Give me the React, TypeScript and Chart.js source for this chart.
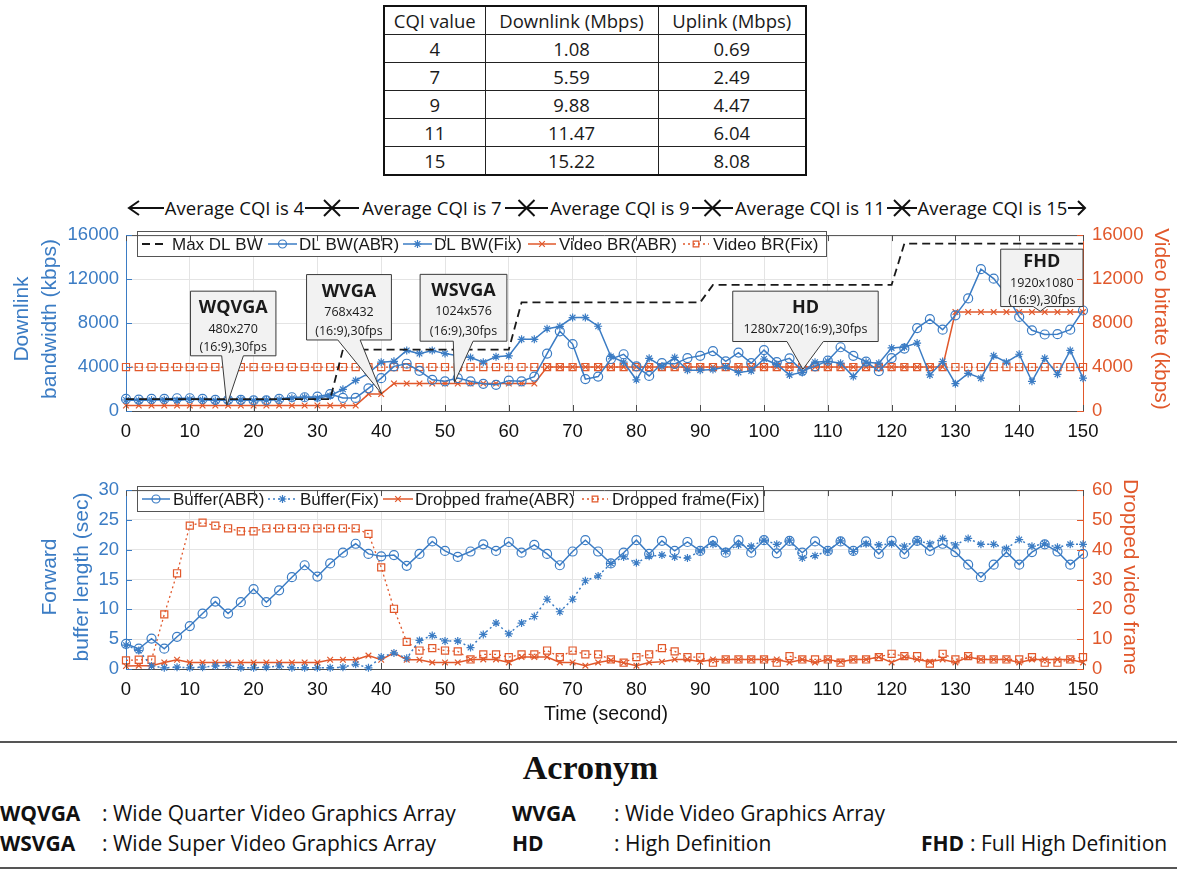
import React, { useEffect, useRef } from 'react';
import { Chart, registerables } from 'chart.js';

Chart.register(...registerables);

// ---------------- DATA ----------------
const TIME = [
  0, 2, 4, 6, 8, 10, 12, 14, 16, 18,
  20, 22, 24, 26, 28, 30, 32, 34, 36, 38,
  40, 42, 44, 46, 48, 50, 52, 54, 56, 58,
  60, 62, 64, 66, 68, 70, 72, 74, 76, 78,
  80, 82, 84, 86, 88, 90, 92, 94, 96, 98,
  100, 102, 104, 106, 108, 110, 112, 114, 116, 118,
  120, 122, 124, 126, 128, 130, 132, 134, 136, 138,
  140, 142, 144, 146, 148, 150,
];

// kbps
const MAX_DL_BW = [
  1080, 1080, 1080, 1080, 1080, 1080, 1080, 1080, 1080, 1080,
  1080, 1080, 1080, 1080, 1080, 1080, 1080, 5590, 5590, 5590,
  5590, 5590, 5590, 5590, 5590, 5590, 5590, 5590, 5590, 5590,
  5590, 9880, 9880, 9880, 9880, 9880, 9880, 9880, 9880, 9880,
  9880, 9880, 9880, 9880, 9880, 9880, 11470, 11470, 11470, 11470,
  11470, 11470, 11470, 11470, 11470, 11470, 11470, 11470, 11470, 11470,
  11470, 15220, 15220, 15220, 15220, 15220, 15220, 15220, 15220, 15220,
  15220, 15220, 15220, 15220, 15220, 15220,
];

const DL_BW_ABR = [
  1100, 1040, 1100, 1100, 1160, 1160, 1100, 1020, 1020, 1020,
  960, 960, 1100, 1250, 1250, 1300, 1540, 1190, 1190, 2060,
  2990, 4060, 4300, 3650, 2840, 2700, 2990, 2700, 2470, 2380,
  2760, 2700, 3130, 5220, 7250, 6090, 2900, 3130, 4730, 5160,
  4060, 3190, 4350, 4290, 4810, 5020, 5450, 4520, 5310, 4350,
  5540, 4440, 4790, 3650, 4060, 4580, 5800, 5020, 4500, 3630,
  4810, 5680, 7540, 8350, 7400, 8700, 10240, 12900, 12040, 10590,
  8560, 7340, 6960, 6990, 7400, 9140,
];

const DL_BW_FIX = [
  1000, 960, 1000, 1020, 960, 1070, 1020, 960, 1000, 1020,
  960, 1000, 1050, 1160, 1250, 1160, 1390, 1970, 2780, 3420,
  4440, 4520, 5510, 5220, 5510, 5220, 5020, 4870, 4440, 4930,
  5020, 6520, 6520, 7480, 7690, 8500, 8500, 7710, 4960, 4440,
  2840, 4790, 4060, 4870, 3710, 3710, 3770, 4000, 3510, 3650,
  4730, 4230, 3280, 3510, 4440, 4520, 4350, 3130, 4440, 4350,
  5740, 5830, 6180, 3280, 4500, 2490, 3420, 2990, 5020, 4440,
  5160, 2700, 4790, 3340, 5510, 2990,
];

const VIDEO_BR_ABR = [
  500, 500, 500, 500, 500, 500, 500, 500, 500, 500,
  500, 500, 500, 500, 500, 500, 500, 500, 500, 1540,
  1540, 2500, 2500, 2500, 2500, 2500, 2500, 2500, 2500, 2500,
  2500, 2500, 2500, 4000, 4000, 4000, 4000, 4000, 4000, 4000,
  4000, 4000, 4000, 4000, 4000, 4000, 4000, 4000, 4000, 4000,
  4000, 4000, 4000, 4000, 4000, 4000, 4000, 4000, 4000, 4000,
  4000, 4000, 4000, 4000, 4000, 9000, 9000, 9000, 9000, 9000,
  9000, 9000, 9000, 9000, 9000, 9000,
];

const VIDEO_BR_FIX = [
  4000, 4000, 4000, 4000, 4000, 4000, 4000, 4000, 4000, 4000,
  4000, 4000, 4000, 4000, 4000, 4000, 4000, 4000, 4000, 4000,
  4000, 4000, 4000, 4000, 4000, 4000, 4000, 4000, 4000, 4000,
  4000, 4000, 4000, 4000, 4000, 4000, 4000, 4000, 4000, 4000,
  4000, 4000, 4000, 4000, 4000, 4000, 4000, 4000, 4000, 4000,
  4000, 4000, 4000, 4000, 4000, 4000, 4000, 4000, 4000, 4000,
  4000, 4000, 4000, 4000, 4000, 4000, 4000, 4000, 4000, 4000,
  4000, 4000, 4000, 4000, 4000, 4000,
];

// seconds
const BUFFER_ABR = [
  4.2, 3.4, 5.1, 3.4, 5.4, 7.2, 9.3, 11.3, 9.3, 11.2,
  13.4, 11.2, 13.2, 15.4, 17.4, 15.5, 17.7, 19.5, 21.0, 19.3,
  18.9, 19.1, 17.3, 19.3, 21.4, 19.8, 18.8, 19.7, 20.9, 19.8,
  21.3, 19.5, 20.8, 19.3, 17.4, 19.7, 21.6, 19.7, 17.7, 19.5,
  21.6, 19.3, 21.5, 19.8, 21.3, 19.8, 21.5, 19.5, 21.6, 19.5,
  21.6, 19.4, 21.5, 19.5, 21.4, 19.8, 21.4, 19.8, 21.4, 19.3,
  21.5, 19.3, 21.5, 19.8, 21.0, 19.6, 17.5, 15.4, 17.5, 19.6,
  17.5, 19.6, 20.9, 19.7, 17.5, 19.3,
];

const BUFFER_FIX = [
  4.0, 3.1, 0.5, 0.2, 0.3, 0.2, 0.3, 0.5, 0.6, 0.2,
  0.2, 0.3, 0.5, 0.2, 0.2, 0.2, 0.2, 0.3, 0.8, 0.2,
  2.0, 2.7, 1.8, 4.8, 5.6, 4.7, 4.7, 3.6, 5.8, 7.7,
  5.9, 7.7, 8.8, 11.7, 9.6, 11.7, 14.8, 15.6, 17.7, 18.8,
  17.8, 18.9, 19.1, 18.8, 18.6, 19.8, 20.9, 19.7, 20.8, 20.6,
  21.6, 20.9, 21.6, 18.6, 19.0, 19.8, 21.5, 19.7, 21.0, 20.8,
  21.0, 20.6, 21.5, 21.0, 21.9, 20.8, 21.9, 20.9, 20.9, 20.2,
  21.7, 20.6, 21.0, 20.4, 20.9, 20.9,
];

// frames
const DROPPED_ABR = [
  1.0, 1.1, 1.1, 2.2, 3.1, 2.2, 2.2, 2.2, 2.2, 2.2,
  2.2, 2.2, 2.2, 2.2, 2.2, 2.2, 3.1, 3.1, 3.1, 4.5,
  3.1, 5.4, 3.1, 3.1, 2.2, 2.2, 2.2, 3.2, 3.2, 3.2,
  2.2, 4.0, 4.0, 4.0, 2.2, 2.2, 1.1, 2.2, 2.9, 2.1,
  1.1, 2.2, 2.4, 3.2, 3.2, 2.4, 3.2, 3.2, 3.2, 3.2,
  3.2, 3.2, 2.2, 3.2, 2.2, 3.2, 2.4, 3.2, 3.2, 4.0,
  2.2, 4.0, 3.2, 2.4, 3.2, 2.2, 4.0, 3.2, 3.2, 3.2,
  2.2, 3.2, 3.2, 3.2, 3.2, 2.2,
];

const DROPPED_FIX = [
  2.9, 3.1, 3.1, 18.3, 32.1, 48.1, 49.1, 48.1, 47.2, 46.2,
  46.2, 47.2, 47.2, 47.2, 47.2, 47.2, 47.2, 47.2, 47.2, 45.3,
  34.1, 20.2, 9.1, 6.2, 7.0, 6.2, 5.9, 3.2, 4.9, 4.9,
  4.0, 4.9, 4.9, 6.2, 4.0, 6.2, 4.9, 4.9, 3.2, 2.1,
  4.0, 4.9, 7.0, 5.9, 4.0, 4.0, 2.1, 3.2, 3.2, 3.2,
  3.2, 2.1, 4.3, 3.2, 3.2, 3.2, 2.1, 3.2, 3.2, 4.0,
  5.1, 4.3, 4.3, 1.8, 5.1, 3.2, 4.3, 3.2, 3.2, 3.2,
  3.2, 4.0, 2.1, 2.1, 3.2, 4.0,
];

// table
const TABLE_HEADERS = ['CQI value', 'Downlink (Mbps)', 'Uplink (Mbps)'];
const CQI_VALUES = [4, 7, 9, 11, 15];
const DOWNLINK_MBPS = ['1.08', '5.59', '9.88', '11.47', '15.22'];
const UPLINK_MBPS = ['0.69', '2.49', '4.47', '6.04', '8.08'];

// acronyms
const ACR_TERMS = ['WQVGA', 'WVGA', 'WSVGA', 'HD', 'FHD'];
const ACR_DEFS = [
  ': Wide Quarter Video Graphics Array',
  ': Wide Video Graphics Array',
  ': Wide Super Video Graphics Array',
  ': High Definition',
  ': Full High Definition',
];

// ---------------- STYLE / LAYOUT ----------------
const BLUE = '#3B7CC4';
const ORANGE = '#E1582B';
const GRID = '#e4e4e4';
const FRAME = '#4d4d4d';
const FONT = '"Liberation Sans", Arial, sans-serif';
const TXT = '"Open Sans", "Noto Sans", sans-serif';
const W = 1177;

const TOP_SERIES = [
  { label: 'Max DL BW', values: MAX_DL_BW, color: '#1a1a1a', marker: 'none', dash: [8, 5], axis: 'y', width: 1.8, r: 0 },
  { label: 'DL BW(ABR)', values: DL_BW_ABR, color: BLUE, marker: 'circle', dash: [], axis: 'y', width: 1.5, r: 4.5 },
  { label: 'DL BW(Fix)', values: DL_BW_FIX, color: BLUE, marker: 'star', dash: [], axis: 'y', width: 1.5, r: 4 },
  { label: 'Video BR(ABR)', values: VIDEO_BR_ABR, color: ORANGE, marker: 'x', dash: [], axis: 'y1', width: 1.5, r: 4 },
  { label: 'Video BR(Fix)', values: VIDEO_BR_FIX, color: ORANGE, marker: 'square', dash: [2, 3], axis: 'y1', width: 1.3, r: 5 },
];

const BOTTOM_SERIES = [
  { label: 'Buffer(ABR)', values: BUFFER_ABR, color: BLUE, marker: 'circle', dash: [], axis: 'y', width: 1.5, r: 4.5 },
  { label: 'Buffer(Fix)', values: BUFFER_FIX, color: BLUE, marker: 'star', dash: [2, 3], axis: 'y', width: 1.5, r: 4 },
  { label: 'Dropped frame(ABR)', values: DROPPED_ABR, color: ORANGE, marker: 'x', dash: [], axis: 'y1', width: 1.5, r: 4 },
  { label: 'Dropped frame(Fix)', values: DROPPED_FIX, color: ORANGE, marker: 'square', dash: [2, 3], axis: 'y1', width: 1.3, r: 5 },
];

// legend layout: [sampleStart, sampleEnd, textX]
const TOP_LEGEND = { box: [137, 16, 689, 25], pos: [[142, 167, 172], [268, 297, 299], [403, 432, 434], [528, 556, 559], [683, 709, 713]] };
const BOTTOM_LEGEND = { box: [137, 16, 626, 25], pos: [[142, 170, 173], [268, 297, 300], [383, 413, 415], [582, 608, 612]] };

// callout annotations in data units: box [t0, t1, yTop, yBottom], pointer base [t, t], tip [t, kbps]
const CALLOUTS = [
  { title: 'WQVGA', lines: ['480x270', '(16:9),30fps'], box: [10.1, 23.5, 10900, 5020], base: [15.0, 18.4], tip: [15.8, 520], dy: [16.5, 38.5, 56.5] },
  { title: 'WVGA', lines: ['768x432', '(16:9),30fps'], box: [28.3, 41.6, 12410, 6460], base: [33.2, 36.7], tip: [40.1, 1540], dy: [17.4, 37.7, 56.7] },
  { title: 'WSVGA', lines: ['1024x576', '(16:9),30fps'], box: [46.1, 59.7, 12430, 6350], base: [51.3, 54.4], tip: [51.5, 2600], dy: [17, 37, 57] },
  { title: 'HD', lines: ['1280x720(16:9),30fps'], box: [95.1, 117.9, 10900, 6320], base: [103.6, 109.3], tip: [106.1, 3800], dy: [16.3, 38.3] },
  { title: 'FHD', lines: ['1920x1080', '(16:9),30fps'], box: [137.1, 150, 14720, 9500], base: [142.2, 144.3], tip: [143.3, 9070], dy: [12.6, 34, 51.6] },
];

// CQI header row layout (page px)
const CQI_TEXT_BOXES = [[164, 305], [359, 505], [548, 692], [733, 887], [917, 1068]];

// acronym layout
const ACR_POS = [
  { x: 0, y: 813, dx: 102 },
  { x: 512, y: 813, dx: 614 },
  { x: 0, y: 843, dx: 102 },
  { x: 512, y: 843, dx: 614 },
  { x: 921, y: 843, dx: 970 },
];

// ---------------- HELPERS ----------------
function drawMarker(ctx: CanvasRenderingContext2D, m: string, x: number, y: number, r: number, color: string) {
  if (m === 'none') return;
  ctx.save();
  ctx.strokeStyle = color;
  ctx.lineWidth = 1.2;
  ctx.setLineDash([]);
  ctx.beginPath();
  const d = r * Math.SQRT1_2;
  if (m === 'circle') ctx.arc(x, y, r, 0, Math.PI * 2);
  else if (m === 'square') ctx.rect(x - d, y - d, 2 * d, 2 * d);
  else if (m === 'x') {
    ctx.moveTo(x - d, y - d); ctx.lineTo(x + d, y + d);
    ctx.moveTo(x + d, y - d); ctx.lineTo(x - d, y + d);
  } else if (m === 'star') {
    ctx.moveTo(x - r, y); ctx.lineTo(x + r, y);
    ctx.moveTo(x, y - r); ctx.lineTo(x, y + r);
    ctx.moveTo(x - d, y - d); ctx.lineTo(x + d, y + d);
    ctx.moveTo(x + d, y - d); ctx.lineTo(x - d, y + d);
  }
  ctx.stroke();
  ctx.restore();
}

const STYLE_MAP: any = { circle: 'circle', star: 'star', x: 'crossRot', square: 'rect', none: false };

function toDatasets(series: any[]) {
  return series.map((s) => ({
    label: s.label,
    data: TIME.map((t, i) => ({ x: t, y: s.values[i] })),
    yAxisID: s.axis,
    borderColor: s.color,
    borderWidth: s.width,
    borderDash: s.dash,
    pointStyle: STYLE_MAP[s.marker],
    pointRadius: s.marker === 'none' ? 0 : s.r,
    pointBorderColor: s.color,
    pointBackgroundColor: 'rgba(0,0,0,0)',
    pointBorderWidth: 1.2,
    tension: 0,
    fill: false,
    clip: false,
  }));
}

function drawLegend(ctx: CanvasRenderingContext2D, legend: any, series: any[]) {
  const [bx, by, bw, bh] = legend.box;
  ctx.save();
  ctx.fillStyle = '#fff';
  ctx.fillRect(bx, by, bw, bh);
  ctx.strokeStyle = '#555';
  ctx.lineWidth = 1;
  ctx.strokeRect(bx + 0.5, by + 0.5, bw, bh);
  const cy = by + bh / 2 + 0.5;
  series.forEach((s, i) => {
    const [s0, s1, tx] = legend.pos[i];
    ctx.strokeStyle = s.color;
    ctx.lineWidth = s.width;
    ctx.setLineDash(s.dash);
    ctx.beginPath();
    ctx.moveTo(s0, cy);
    ctx.lineTo(s1, cy);
    ctx.stroke();
    ctx.setLineDash([]);
    drawMarker(ctx, s.marker, (s0 + s1) / 2, cy, Math.min(s.r, 4), s.color);
    ctx.fillStyle = '#1a1a1a';
    ctx.font = `17px ${FONT}`;
    ctx.textAlign = 'left';
    ctx.textBaseline = 'middle';
    ctx.fillText(s.label, tx, cy + 1);
  });
  ctx.restore();
}

function framePlugin(titles: any[]) {
  return {
    id: 'frame',
    afterDraw(chart: any) {
      const { ctx, chartArea: a, scales } = chart;
      ctx.save();
      ctx.lineWidth = 1;
      ctx.strokeStyle = FRAME;
      ctx.beginPath();
      ctx.moveTo(a.left, a.top + 0.5);
      ctx.lineTo(a.right, a.top + 0.5);
      ctx.stroke();
      // inward ticks
      scales.x.ticks.forEach((t: any) => {
        const px = Math.round(scales.x.getPixelForValue(t.value)) + 0.5;
        ctx.beginPath();
        ctx.moveTo(px, a.bottom); ctx.lineTo(px, a.bottom - 6);
        ctx.moveTo(px, a.top); ctx.lineTo(px, a.top + 6);
        ctx.stroke();
      });
      ctx.strokeStyle = BLUE;
      scales.y.ticks.forEach((t: any) => {
        const py = Math.round(scales.y.getPixelForValue(t.value)) + 0.5;
        ctx.beginPath(); ctx.moveTo(a.left, py); ctx.lineTo(a.left + 6, py); ctx.stroke();
      });
      ctx.strokeStyle = ORANGE;
      scales.y1.ticks.forEach((t: any) => {
        const py = Math.round(scales.y1.getPixelForValue(t.value)) + 0.5;
        ctx.beginPath(); ctx.moveTo(a.right, py); ctx.lineTo(a.right - 6, py); ctx.stroke();
      });
      // titles
      titles.forEach((tt) => {
        ctx.save();
        ctx.fillStyle = tt.color;
        ctx.font = `${tt.size}px ${FONT}`;
        ctx.textAlign = 'center';
        ctx.textBaseline = 'middle';
        ctx.translate(tt.x, tt.y);
        ctx.rotate(tt.rot);
        ctx.fillText(tt.text, 0, 0);
        ctx.restore();
      });
      ctx.restore();
    },
  };
}

function calloutPlugin() {
  return {
    id: 'callouts',
    afterDatasetsDraw(chart: any) {
      const { ctx, scales } = chart;
      const X = (v: number) => scales.x.getPixelForValue(v);
      const Y = (v: number) => scales.y.getPixelForValue(v);
      ctx.save();
      CALLOUTS.forEach((c) => {
        const l = X(c.box[0]);
        const r = X(c.box[1]);
        const t = Y(c.box[2]);
        const b = Y(c.box[3]);
        ctx.beginPath();
        ctx.moveTo(l, t);
        ctx.lineTo(r, t);
        ctx.lineTo(r, b);
        ctx.lineTo(X(c.base[1]), b);
        ctx.lineTo(X(c.tip[0]), Y(c.tip[1]));
        ctx.lineTo(X(c.base[0]), b);
        ctx.lineTo(l, b);
        ctx.closePath();
        ctx.fillStyle = '#f2f2f2';
        ctx.fill();
        ctx.strokeStyle = '#3a3a3a';
        ctx.lineWidth = 1;
        ctx.stroke();
        const cx = (l + r) / 2;
        ctx.fillStyle = '#1a1a1a';
        ctx.textAlign = 'center';
        ctx.textBaseline = 'middle';
        ctx.font = `bold 18px ${TXT}`;
        ctx.fillText(c.title, cx, t + c.dy[0]);
        ctx.font = `12.5px ${TXT}`;
        c.lines.forEach((ln, i) => ctx.fillText(ln, cx, t + c.dy[i + 1]));
      });
      drawLegend(ctx, TOP_LEGEND, TOP_SERIES);
      ctx.restore();
    },
  };
}

function legendPlugin(legend: any, series: any[]) {
  return {
    id: 'customLegend',
    afterDatasetsDraw(chart: any) {
      drawLegend(chart.ctx, legend, series);
    },
  };
}

function baseOptions(padTop: number, xHeight: number, yMax: number, yStep: number, y1Max: number, y1Step: number) {
  const tickFont = { family: FONT, size: 18.5 };
  const plain = (v: any) => String(v);
  return {
    responsive: false,
    maintainAspectRatio: false,
    animation: false,
    devicePixelRatio: 1,
    events: [],
    layout: { padding: { top: padTop, left: 0, right: 0, bottom: 0 } },
    plugins: { legend: { display: false }, tooltip: { enabled: false }, title: { display: false } },
    scales: {
      x: {
        type: 'linear',
        min: 0,
        max: 150,
        afterFit: (s: any) => { s.height = xHeight; },
        ticks: { stepSize: 10, color: '#111', font: tickFont, padding: 10, maxRotation: 0, autoSkip: false, callback: plain },
        grid: { color: GRID, drawTicks: false },
        border: { color: FRAME, width: 1 },
      },
      y: {
        position: 'left',
        min: 0,
        max: yMax,
        afterFit: (s: any) => { s.width = 126; },
        ticks: { stepSize: yStep, color: BLUE, font: tickFont, padding: 7, callback: plain },
        grid: { color: GRID, drawTicks: false },
        border: { color: BLUE, width: 1 },
      },
      y1: {
        position: 'right',
        min: 0,
        max: y1Max,
        afterFit: (s: any) => { s.width = W - 1083; },
        ticks: { stepSize: y1Step, color: ORANGE, font: tickFont, padding: 9, callback: plain },
        grid: { display: false, drawTicks: false },
        border: { color: ORANGE, width: 1 },
      },
    },
  };
}

function ChartCanvas({ top, height, build }: { top: number; height: number; build: () => any }) {
  const ref = useRef<HTMLCanvasElement>(null);
  useEffect(() => {
    const chart = new Chart(ref.current as HTMLCanvasElement, build());
    return () => chart.destroy();
  }, []);
  return (
    <canvas
      ref={ref}
      width={W}
      height={height}
      style={{ position: 'absolute', left: 0, top, width: W, height, display: 'block' }}
    />
  );
}

function buildTop() {
  const TOP = 215;
  return {
    type: 'line',
    data: { datasets: toDatasets(TOP_SERIES) },
    options: baseOptions(227 - TOP, 44, 16000, 4000, 16000, 4000),
    plugins: [
      calloutPlugin(),
      framePlugin([
        { text: 'Downlink', x: 22, y: 319 - TOP, rot: -Math.PI / 2, color: BLUE, size: 21 },
        { text: 'bandwidth (kbps)', x: 50, y: 319 - TOP, rot: -Math.PI / 2, color: BLUE, size: 21 },
        { text: 'Video bitrate (kbps)', x: 1161, y: 319 - TOP, rot: Math.PI / 2, color: ORANGE, size: 21 },
      ]),
    ],
  };
}

function buildBottom() {
  const TOP = 470;
  return {
    type: 'line',
    data: { datasets: toDatasets(BOTTOM_SERIES) },
    options: baseOptions(484 - TOP, 61, 30, 5, 60, 10),
    plugins: [
      legendPlugin(BOTTOM_LEGEND, BOTTOM_SERIES),
      framePlugin([
        { text: 'Forward', x: 50, y: 577 - TOP, rot: -Math.PI / 2, color: BLUE, size: 21 },
        { text: 'buffer length (sec)', x: 82, y: 577 - TOP, rot: -Math.PI / 2, color: BLUE, size: 21 },
        { text: 'Dropped video frame', x: 1130, y: 577 - TOP, rot: Math.PI / 2, color: ORANGE, size: 21 },
        { text: 'Time (second)', x: 606, y: 715 - TOP, rot: 0, color: '#111', size: 19.5 },
      ]),
    ],
  };
}

function CqiRow() {
  const y = 12;
  const gaps: number[][] = [];
  for (let i = 0; i < CQI_TEXT_BOXES.length - 1; i++) gaps.push([CQI_TEXT_BOXES[i][1], CQI_TEXT_BOXES[i + 1][0]]);
  const first = CQI_TEXT_BOXES[0][0];
  const last = CQI_TEXT_BOXES[CQI_TEXT_BOXES.length - 1][1];
  return (
    <div style={{ position: 'absolute', left: 0, top: 196, width: W, height: 24 }}>
      <svg width={W} height={24} style={{ position: 'absolute', left: 0, top: 0 }}>
        <g stroke="#111" strokeWidth={2} fill="none">
          <line x1={129} y1={y} x2={first} y2={y} />
          <polyline points={`${139},${y - 7} ${129},${y} ${139},${y + 7}`} />
          {gaps.map(([a, b], i) => {
            const m = (a + b) / 2;
            return (
              <g key={i}>
                <line x1={a} y1={y} x2={b} y2={y} />
                <line x1={m - 8} y1={y - 8} x2={m + 8} y2={y + 8} />
                <line x1={m - 8} y1={y + 8} x2={m + 8} y2={y - 8} />
              </g>
            );
          })}
          <line x1={last} y1={y} x2={1085} y2={y} />
          <polyline points={`${1078},${y - 7} ${1085},${y} ${1078},${y + 7}`} />
        </g>
      </svg>
      {CQI_VALUES.map((c, i) => (
        <div
          key={c}
          style={{
            position: 'absolute',
            left: CQI_TEXT_BOXES[i][0],
            width: CQI_TEXT_BOXES[i][1] - CQI_TEXT_BOXES[i][0],
            top: 0,
            height: 24,
            lineHeight: '24px',
            textAlign: 'center',
            fontFamily: TXT,
            fontSize: 18.5,
            color: '#111',
            whiteSpace: 'nowrap',
          }}
        >
          {`Average CQI is ${c}`}
        </div>
      ))}
    </div>
  );
}

function CqiTable() {
  const cell: React.CSSProperties = {
    border: '1px solid #222',
    padding: 0,
    textAlign: 'center',
    fontWeight: 'normal',
    height: 27,
    lineHeight: '27px',
  };
  return (
    <table
      style={{
        position: 'absolute',
        left: 383,
        top: 5,
        width: 422,
        borderCollapse: 'collapse',
        tableLayout: 'fixed',
        fontFamily: TXT,
        fontSize: 18.5,
        color: '#1a1a1a',
        border: '2px solid #111',
      }}
    >
      <colgroup>
        <col style={{ width: 101 }} />
        <col style={{ width: 173 }} />
        <col style={{ width: 148 }} />
      </colgroup>
      <thead>
        <tr>
          {TABLE_HEADERS.map((h) => (
            <th key={h} style={cell}>{h}</th>
          ))}
        </tr>
      </thead>
      <tbody>
        {CQI_VALUES.map((c, i) => (
          <tr key={c}>
            <td style={cell}>{c}</td>
            <td style={cell}>{DOWNLINK_MBPS[i]}</td>
            <td style={cell}>{UPLINK_MBPS[i]}</td>
          </tr>
        ))}
      </tbody>
    </table>
  );
}

function Acronyms() {
  return (
    <>
      <div style={{ position: 'absolute', left: 0, top: 741, width: W, height: 2, background: '#555' }} />
      <div
        style={{
          position: 'absolute',
          left: 0,
          top: 748,
          width: W + 4,
          height: 40,
          lineHeight: '40px',
          textAlign: 'center',
          fontFamily: '"Liberation Serif", "DejaVu Serif", serif',
          fontWeight: 'bold',
          fontSize: 34,
          color: '#111',
        }}
      >
        Acronym
      </div>
      {ACR_TERMS.map((t, i) => (
        <React.Fragment key={t}>
          <div
            style={{
              position: 'absolute', left: ACR_POS[i].x, top: ACR_POS[i].y - 14, height: 28, lineHeight: '28px',
              fontFamily: TXT, fontWeight: 'bold', fontSize: 21, color: '#111', whiteSpace: 'nowrap',
            }}
          >
            {t}
          </div>
          <div
            style={{
              position: 'absolute', left: ACR_POS[i].dx, top: ACR_POS[i].y - 14, height: 28, lineHeight: '28px',
              fontFamily: TXT, fontSize: 21, color: '#111', whiteSpace: 'nowrap',
            }}
          >
            {ACR_DEFS[i]}
          </div>
        </React.Fragment>
      ))}
      <div style={{ position: 'absolute', left: 0, top: 867, width: W, height: 2, background: '#555' }} />
    </>
  );
}

export default function App() {
  return (
    <div style={{ position: 'absolute', left: 0, top: 0, width: W, height: 871, background: '#fff', overflow: 'hidden' }}>
      <CqiTable />
      <CqiRow />
      <ChartCanvas top={215} height={240} build={buildTop} />
      <ChartCanvas top={470} height={260} build={buildBottom} />
      <Acronyms />
    </div>
  );
}
